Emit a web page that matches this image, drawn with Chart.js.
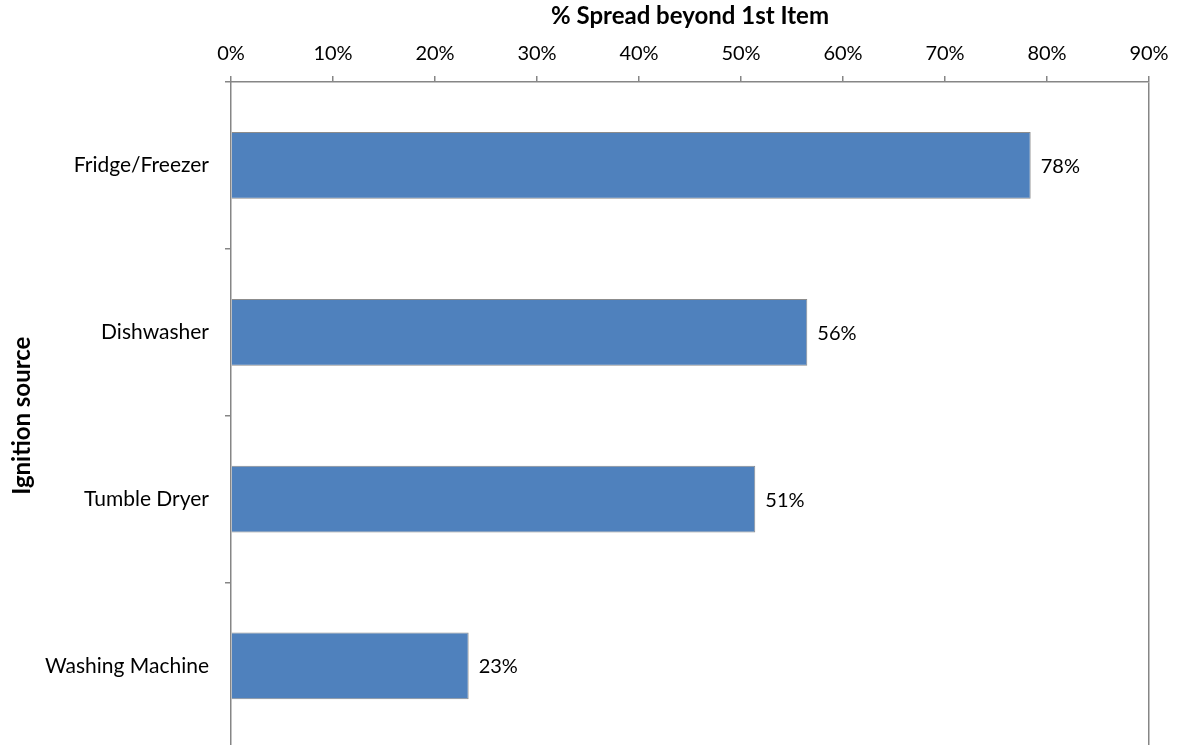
<!DOCTYPE html>
<html>
<head>
<meta charset="utf-8">
<script src="https://cdn.jsdelivr.net/npm/chart.js@4/dist/chart.umd.min.js"></script>
<style>
  html, body { margin: 0; padding: 0; background: #fff; overflow: hidden; }
  #wrap { width: 1180px; height: 778px; }
</style>
</head>
<body>
<div id="wrap"><canvas id="myChart"></canvas></div>
<script>
// Data
const categories = ["Fridge/Freezer", "Dishwasher", "Tumble Dryer", "Washing Machine"];
const spreadValues = [0.784, 0.565, 0.514, 0.233];
const shownLabels = ["78%", "56%", "51%", "23%"];
const xTicks = [0, 0.1, 0.2, 0.3, 0.4, 0.5, 0.6, 0.7, 0.8, 0.9];

const axisGrey = "#868686";
const fontName = "Lato, 'Open Sans', sans-serif";

// value labels at the end of each bar
const barLabels = {
  id: "barLabels",
  afterDatasetsDraw(chart) {
    const ctx = chart.ctx;
    const meta = chart.getDatasetMeta(0);
    ctx.save();
    ctx.fillStyle = "#000";
    ctx.font = "20px " + fontName;
    ctx.textAlign = "left";
    ctx.textBaseline = "middle";
    meta.data.forEach((bar, i) => {
      ctx.fillText(shownLabels[i], bar.x + 10, bar.y + 1);
    });
    ctx.restore();
  }
};

new Chart("myChart", {
  type: "bar",
  data: {
    labels: categories,
    datasets: [{
      data: spreadValues,
      backgroundColor: "#4F81BD",
      borderColor: "#8C8C8C",
      borderWidth: 1,
      barPercentage: 0.4,
      categoryPercentage: 1.0
    }]
  },
  options: {
    indexAxis: "y",
    responsive: true,
    maintainAspectRatio: false,
    animation: false,
    layout: {
      padding: { left: 8, right: 31, top: 2, bottom: 3 }
    },
    scales: {
      x: {
        position: "top",
        min: 0,
        max: 0.9,
        afterBuildTicks(scale) {
          scale.ticks = xTicks.map(v => ({ value: v }));
        },
        afterFit(scale) {
          scale.height = 80;
        },
        ticks: {
          color: "#000",
          padding: 10,
          font: { family: fontName, size: 20 },
          callback: v => Math.round(v * 100) + "%"
        },
        grid: {
          drawOnChartArea: true,
          color: c => (c.index === xTicks.length - 1 ? axisGrey : "rgba(0,0,0,0)"),
          tickColor: axisGrey,
          tickLength: 6,
          lineWidth: 1.5
        },
        border: { display: true, color: axisGrey, width: 1.5 },
        title: {
          display: true,
          text: "% Spread beyond 1st Item",
          color: "#000",
          font: { family: fontName, size: 24, weight: "bold" },
          padding: { top: 0, bottom: 0 }
        }
      },
      y: {
        afterFit(scale) {
          scale.width = 223;
        },
        ticks: {
          color: "#000",
          padding: 16,
          font: { family: fontName, size: 21 }
        },
        grid: {
          drawOnChartArea: false,
          tickColor: axisGrey,
          tickLength: 6,
          lineWidth: 1.5
        },
        border: { display: true, color: axisGrey, width: 1.5 },
        title: {
          display: true,
          text: "Ignition source",
          color: "#000",
          font: { family: fontName, size: 24, weight: "bold" },
          padding: { top: 0, bottom: 0 }
        }
      }
    },
    plugins: {
      legend: { display: false },
      tooltip: { enabled: false }
    }
  },
  plugins: [barLabels]
});
</script>
</body>
</html>
